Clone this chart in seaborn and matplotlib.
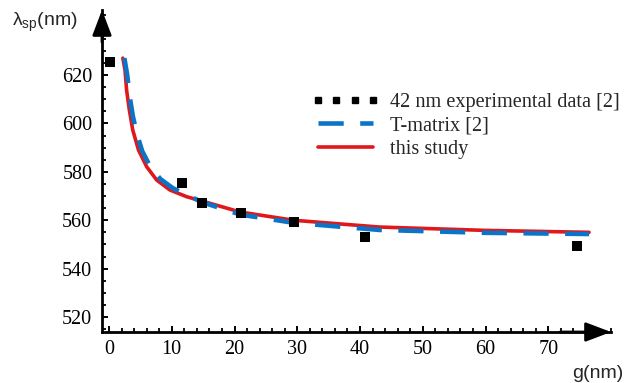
import numpy as np
import pandas as pd
import matplotlib
matplotlib.use("Agg")
import matplotlib.pyplot as plt
from matplotlib.lines import Line2D
from matplotlib.ticker import MultipleLocator
import seaborn as sns

# ---- data ----
exp_g = [0.15, 11.6, 14.8, 21.1, 29.4, 40.8, 74.6]
exp_lam = [625.4, 575.4, 567.0, 562.9, 559.2, 553.0, 549.3]

tm_g = [2.45, 2.9, 3.3, 3.8, 4.4, 5.3, 6.6, 8.2, 10.2, 12.6, 15.0, 21.0, 29.5, 43.0, 60.0, 76.5]
tm_lam = [627.0, 620.0, 611.0, 603.0, 596.0, 588.5, 582.0, 577.0, 573.2, 570.2, 567.3, 562.3, 558.9, 556.0, 554.8, 554.3]

st_g = [2.2, 2.55, 2.8, 3.24, 3.78, 4.7, 6.0, 7.6, 9.7, 12.4, 15.0, 20.9, 29.4, 43.0, 60.0, 76.5]
st_lam = [627.0, 622.0, 613.8, 605.5, 597.3, 589.0, 582.1, 576.6, 572.5, 569.7, 567.8, 563.4, 560.0, 557.2, 555.8, 555.0]

labels = ["42 nm experimental data [2]", "T-matrix [2]", "this study"]
x_ticks = [0, 10, 20, 30, 40, 50, 60, 70]
y_ticks = [520, 540, 560, 580, 600, 620]

RED = "#e0181c"
BLUE = "#0b74c6"

sns.set_theme(style="white")
plt.rcParams["font.family"] = ["Liberation Serif", "DejaVu Serif"]
plt.rcParams["mathtext.fontset"] = "custom"
plt.rcParams["mathtext.rm"] = "Liberation Sans"

W, H = 629, 383
fig = plt.figure(figsize=(W / 100, H / 100), dpi=100)
ax = fig.add_axes([102 / W, 51 / H, (611 - 102) / W, (332 - 10) / H])

st_df = pd.DataFrame({"g": st_g, "lam": st_lam})
tm_df = pd.DataFrame({"g": tm_g, "lam": tm_lam})
ex_df = pd.DataFrame({"g": exp_g, "lam": exp_lam})

sns.lineplot(data=st_df, x="g", y="lam", ax=ax, color=RED, lw=2.6, zorder=3)
sns.lineplot(data=tm_df, x="g", y="lam", ax=ax, color=BLUE, lw=3.3, zorder=4)
ax.lines[-1].set_dashes((5.5, 3.6))
ax.lines[-1].set_dash_capstyle("butt")
sns.scatterplot(data=ex_df, x="g", y="lam", ax=ax, marker="s", s=50,
                color="black", edgecolor="black", linewidth=0, zorder=5)

ax.set_xlim(-1.12, 80.0)
ax.set_ylim(513.8, 646.9)
ax.set_xticks(x_ticks)
ax.set_yticks(y_ticks)
ax.xaxis.set_minor_locator(MultipleLocator(2))
ax.yaxis.set_minor_locator(MultipleLocator(5))
ax.set_xlabel("")
ax.set_ylabel("")

for s in ["top", "right"]:
    ax.spines[s].set_visible(False)
for s in ["left", "bottom"]:
    ax.spines[s].set_linewidth(2.0)
    ax.spines[s].set_color("black")

ax.tick_params(which="major", direction="in", length=4.0, width=1.4,
               colors="black", labelsize=14.5, pad=6,
               left=True, bottom=True, right=False, top=False)
ax.tick_params(which="minor", direction="in", length=3, width=1.3,
               colors="black", left=True, bottom=True, right=False, top=False)
ax.tick_params(axis="y", which="major", pad=7)

# arrowheads at the ends of the axes
arrow_kw = dict(arrowstyle="-|>,head_length=1.0,head_width=0.38",
                mutation_scale=15.5, lw=2.0, color="black",
                shrinkA=0, shrinkB=0)
ax.annotate("", xy=(1, 0), xytext=(0.9, 0), xycoords="axes fraction",
            arrowprops=arrow_kw)
ax.annotate("", xy=(0, 1), xytext=(0, 0.9), xycoords="axes fraction",
            arrowprops=arrow_kw)

handles = [
    Line2D([], [], ls="none", marker="s", ms=4.6, color="black"),
    Line2D([], [], color=BLUE, lw=3.3, dashes=(5.5, 3.6), dash_capstyle="butt"),
    Line2D([], [], color=RED, lw=2.6),
]
leg = fig.legend(handles, labels, loc="upper left",
                 bbox_to_anchor=(312 / W, 1 - 93 / H),
                 frameon=False, fontsize=14.6, numpoints=4,
                 handlelength=3.3, handletextpad=0.55, labelspacing=0.2,
                 borderpad=0, borderaxespad=0)

fig.text(12 / W, 1 - 22 / H, "λ$_{\\mathrm{sp}}$(nm)", fontsize=14,
         family=["Liberation Sans", "DejaVu Sans"], va="center", ha="left")
fig.text(572 / W, 1 - 378 / H, "g(nm)", fontsize=14,
         family=["Liberation Sans", "DejaVu Sans"], va="baseline", ha="left")

fig.savefig("out.png", dpi=100)
